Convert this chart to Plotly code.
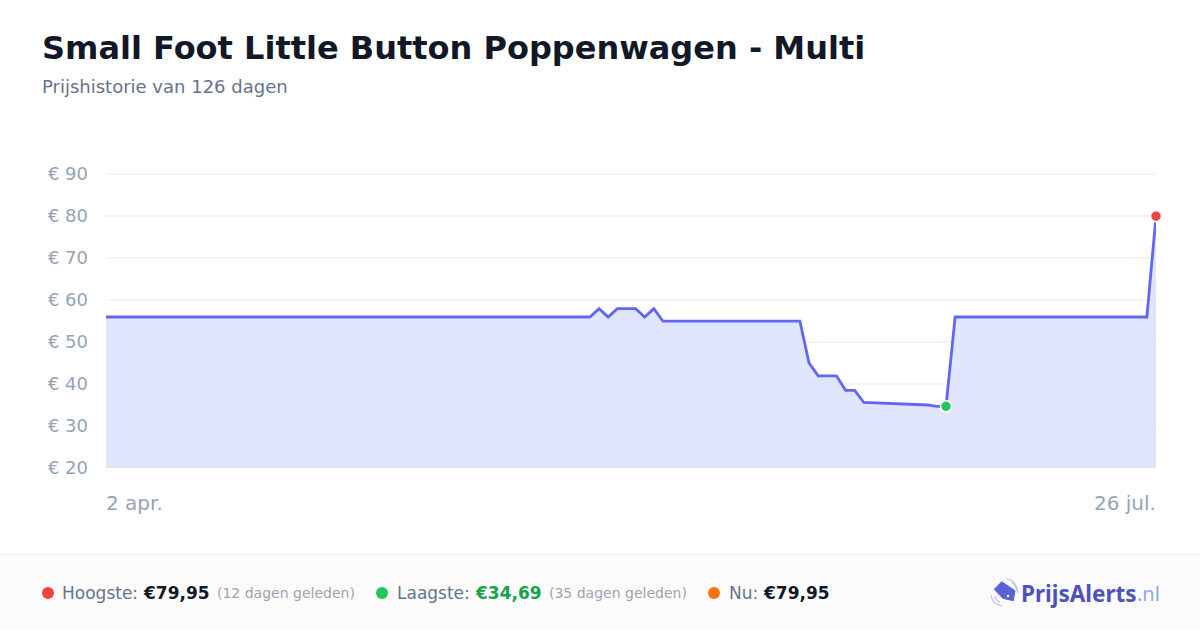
import plotly.graph_objects as go

W = 1200
H = 630

dates = ["2025-04-02", "2025-05-25", "2025-05-26", "2025-05-27", "2025-05-28", "2025-05-30",
         "2025-05-31", "2025-06-01", "2025-06-02", "2025-06-17", "2025-06-18", "2025-06-19",
         "2025-06-21", "2025-06-22", "2025-06-23", "2025-06-24", "2025-07-01", "2025-07-02",
         "2025-07-03", "2025-07-04", "2025-07-25", "2025-07-26"]
prices = [55.95, 55.95, 57.95, 55.95, 57.95, 57.95,
          55.95, 57.95, 54.95, 54.95, 45.0, 41.95,
          41.95, 38.5, 38.5, 35.6, 35.0, 34.69,
          34.69, 55.95, 55.95, 79.95]

y_ticks = [20, 30, 40, 50, 60, 70, 80, 90]
y_tick_labels = ["€ 20", "€ 30", "€ 40", "€ 50", "€ 60", "€ 70", "€ 80", "€ 90"]
x_tick_dates = ["2025-04-02", "2025-07-26"]
x_tick_labels = ["2 apr.", "26 jul."]

high_date = "2025-07-26"
high_price = 79.95
low_date = "2025-07-03"
low_price = 34.69

FONT = "DejaVu Sans"


def px(x):
    return x / W


def py(y):
    return 1 - y / H


def text(x, y, s, size, color, bold=False, anchor="left", family=FONT):
    fig.add_annotation(
        x=px(x), y=py(y), xref="paper", yref="paper", text=f"<b>{s}</b>" if bold else s,
        showarrow=False, xanchor=anchor, yanchor="middle", align=anchor,
        font=dict(family=family, size=size, color=color), borderpad=0, borderwidth=0,
    )


def dot(x, y, color, r=6):
    fig.add_shape(type="circle", xref="paper", yref="paper", layer="above",
                  x0=px(x - r), x1=px(x + r), y0=py(y + r), y1=py(y - r),
                  fillcolor=color, line_width=0)


fig = go.Figure()

# prijslijn met vlak eronder
fig.add_trace(go.Scatter(
    x=dates, y=prices, mode="lines", fill="tozeroy",
    fillcolor="rgba(211,217,255,0.67)",
    line=dict(color="#6366f1", width=2.8),
    hoverinfo="skip",
))

# hoogste en laagste punt
fig.add_trace(go.Scatter(
    x=[high_date], y=[high_price], mode="markers", cliponaxis=False,
    marker=dict(color="#ef4444", size=11, line=dict(color="white", width=1.5)),
))
fig.add_trace(go.Scatter(
    x=[low_date], y=[low_price], mode="markers", cliponaxis=False,
    marker=dict(color="#22c55e", size=11, line=dict(color="white", width=1.5)),
))

# range loopt iets door, anders tekent plotly de bovenste rasterlijn niet
fig.update_layout(
    width=W, height=H, showlegend=False,
    margin=dict(l=0, r=0, t=0, b=0),
    paper_bgcolor="white", plot_bgcolor="white",
    xaxis=dict(
        domain=[px(106), px(1156)], range=[x_tick_dates[0], x_tick_dates[1]], type="date",
        showgrid=False, showticklabels=False, ticks="", zeroline=False, automargin=False,
        showline=False,
    ),
    yaxis=dict(
        domain=[py(468), py(171.9)], range=[20, 90.5], tickmode="array",
        tickvals=y_ticks, ticktext=y_tick_labels, automargin=False,
        showgrid=True, gridcolor="#f3f4f6", gridwidth=2, zeroline=False, ticks="",
        ticklabelstandoff=17, showline=False,
        tickfont=dict(family=FONT, size=18, color="#94a3b8"),
    ),
)

# basislijn op de onderkant van de grafiek
fig.add_shape(type="line", xref="paper", yref="y", layer="above",
              x0=px(106), x1=px(1156), y0=y_ticks[0], y1=y_ticks[0],
              line=dict(color="#dfe1e8", width=3))

# voetbalk
fig.add_shape(type="rect", xref="paper", yref="paper", layer="below",
              x0=0, x1=1, y0=0, y1=py(554.5), fillcolor="#fbfbfc", line_width=0)
fig.add_shape(type="line", xref="paper", yref="paper", layer="below",
              x0=0, x1=1, y0=py(554.5), y1=py(554.5), line=dict(color="#f1f1f3", width=1))

# titels
text(42, 48, "Small Foot Little Button Poppenwagen - Multi", 32, "#111827", bold=True)
text(42, 87, "Prijshistorie van 126 dagen", 18, "#64748b")

# x-as labels
text(106, 503, x_tick_labels[0], 20, "#94a3b8")
text(1156, 503, x_tick_labels[1], 20, "#94a3b8", anchor="right")

# statistieken
dot(48, 593, "#ef4444")
text(62, 593, "Hoogste:", 17, "#64748b")
text(143, 593, "€79,95", 17, "#111827", bold=True)
text(217, 593, "(12 dagen geleden)", 14, "#9ca3af")

dot(382, 593, "#22c55e")
text(397, 593, "Laagste:", 17, "#64748b")
text(475, 593, "€34,69", 17, "#16a34a", bold=True)
text(549, 593, "(35 dagen geleden)", 14, "#9ca3af")

dot(714, 593, "#f97316")
text(729, 593, "Nu:", 17, "#64748b")
text(763, 593, "€79,95", 17, "#111827", bold=True)

# logo
tag = [(1001.7, 581.7), (1015, 590.7), (1013.3, 600.7), (1002.7, 598.3), (994.3, 589.3)]
fig.add_shape(type="path", xref="paper", yref="paper", layer="above",
              path="M " + " L ".join(f"{px(a)} {py(b)}" for a, b in tag) + " Z",
              fillcolor="#5b62d6", line=dict(color="#5b62d6", width=1))
dot(1008, 596, "white", r=1.2)
for p0, pc, p1 in [((1012, 583), (1016, 585), (1017, 590)), ((1007, 579), (1016, 580), (1018, 593)),
                   ((995, 596), (996, 601), (1000, 602)), ((991, 595), (992, 604), (1002, 606))]:
    fig.add_shape(type="path", xref="paper", yref="paper", layer="above",
                  path=f"M {px(p0[0])} {py(p0[1])} Q {px(pc[0])} {py(pc[1])} {px(p1[0])} {py(p1[1])}",
                  line=dict(color="#b4bcf0", width=1.2))
text(1021, 593, "PrijsAlerts", 22.5, "#4f53b9", bold=True, family="Noto Sans")
text(1137, 593, ".nl", 20, "#8fa8ea", family="Noto Sans")

fig.write_html("out.html", post_script="document.body.style.margin='0';",
               config={"displayModeBar": False})
